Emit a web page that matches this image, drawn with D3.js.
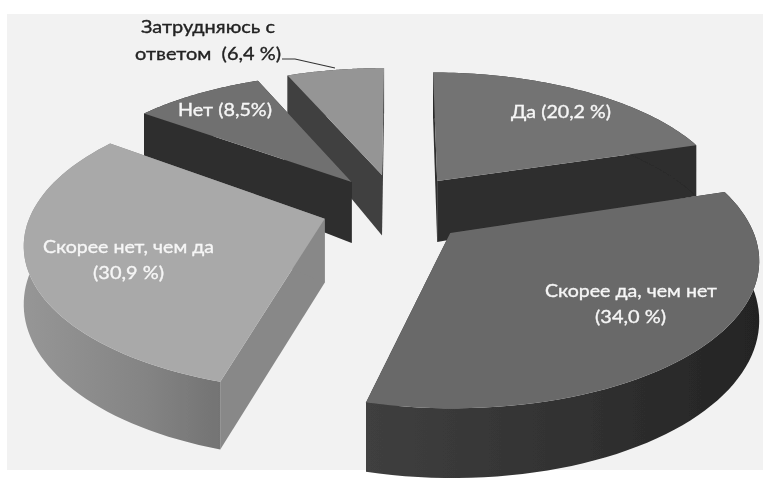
<!DOCTYPE html>
<html><head><meta charset="utf-8">
<script src="https://cdn.jsdelivr.net/npm/d3@7/dist/d3.min.js"></script>
<style>html,body{margin:0;padding:0;background:#fff}svg{display:block}text{font-family:Lato,"Open Sans",sans-serif;font-size:18px}</style>
</head><body><svg id="c" width="763" height="480"></svg>
<script>
const categories = ["Да","Скорее да, чем нет","Скорее нет, чем да","Нет","Затрудняюсь с ответом"];
const shares = [20.2,34.0,30.9,8.5,6.4];
const labelLines = [["Да (20,2 %)"],["Скорее да, чем нет","(34,0 %)"],["Скорее нет, чем да","(30,9 %)"],["Нет (8,5%)"],["Затрудняюсь с","ответом  (6,4 %)"]];

// projection + placement
const horizonY=-570, planeSpan=800, persp=.18, hRim=57, hApex=65, radiusX=305;
const place=[
 {p:409,q:30,ey:.362,flat:0,top:"#737373",wall:"#2d2d2d",cut:"#2d2d2d"},
 {p:391,q:59,ey:-.02,flat:.02,top:"#696969",wall:"url(#g2)",cut:"#2d2d2d"},
 {p:372,q:-48,ey:.08,flat:.02,top:"#a9a9a9",wall:"url(#g3)",cut:"#888888"},
 {p:377,q:-27,ey:.355,flat:0,top:"#707070",wall:"#2e2e2e",cut:"#2e2e2e"},
 {p:396,q:-15,ey:.41,flat:0,top:"#959595",wall:"#404040",cut:"#404040"}
];
const labelPos=[
 [{x:561,y:118,w:100}],
 [{x:631,y:297,w:172},{x:630.5,y:323,w:71}],
 [{x:128.5,y:253,w:171},{x:128.5,y:279,w:71}],
 [{x:225,y:116,w:94}],
 [{x:208,y:33,w:134,c:"#222"},{x:208,y:60,w:146,c:"#222"}]
];
const drawOrder=[4,3,0,2,1];

const svg=d3.select("#c");
const defs=svg.append("defs");
defs.append("filter").attr("id","soft").attr("x","-5%").attr("y","-5%").attr("width","110%").attr("height","110%")
 .append("feGaussianBlur").attr("stdDeviation",.5);
function grad(id,x1,x2,stops){const g=defs.append("linearGradient").attr("id",id).attr("gradientUnits","userSpaceOnUse")
 .attr("x1",x1).attr("x2",x2).attr("y1",0).attr("y2",0);
 stops.forEach(([o,c])=>g.append("stop").attr("offset",o).attr("stop-color",c));}
grad("g2",368,757,[[0,"#3f3f3f"],[.5,"#323232"],[1,"#242424"]]);
grad("g3",25,226,[[0,"#969696"],[.6,"#848484"],[1,"#727272"]]);

svg.append("rect").attr("x",7).attr("y",14).attr("width",756).attr("height",456).attr("fill","#f2f2f2");

const arcs=d3.pie().sort(null).value(d=>d)(shares);
const line=d3.line();
const g=svg.append("g").attr("filter","url(#soft)");

function proj(s,theta,r,drop,bulge){
 const rr=r*(1-(bulge||0));
 const X=Math.sin(theta)*rr, Y=Math.cos(theta)*rr+s.ey;
 const k=1/(1+persp*Y);
 const h=drop?(hRim+(hApex-hRim)*(1-r))*k:0;
 return [s.p+(s.q+radiusX*X)*k, horizonY+planeSpan*k+h];
}
drawOrder.forEach(i=>{
 const a=arcs[i], s=place[i];
 const ts=d3.range(0,61).map(t=>t/60);
 const at=t=>a.startAngle+(a.endAngle-a.startAngle)*t;
 const fl=t=>s.flat*Math.sin(Math.PI*t);
 const rimT=ts.map(t=>proj(s,at(t),1,false,fl(t))), rimB=ts.map(t=>proj(s,at(t),1,true,fl(t)));
 const apT=proj(s,0,0,false), apB=proj(s,0,0,true);
 [0,60].forEach(j=>g.append("path").attr("d",line([apT,rimT[j],rimB[j],apB])+"Z").attr("fill",s.cut));
 g.append("path").attr("d",line([...rimT,...rimB.slice().reverse()])+"Z").attr("fill",s.wall);
 g.append("path").attr("d",line([apT,...rimT])+"Z").attr("fill",s.top);
});
g.append("path").attr("d",line([[282,59],[295,59],[335,68]])).attr("fill","none").attr("stroke","#333").attr("stroke-width",1.2);

labelLines.forEach((ls,i)=>ls.forEach((t,j)=>{
 const p=labelPos[i][j];
 const c=p.c||"#f6f6f6";
 g.append("text").attr("x",p.x).attr("y",p.y).attr("text-anchor","middle").attr("textLength",p.w).attr("lengthAdjust","spacingAndGlyphs")
  .attr("fill",c).attr("stroke",c).attr("stroke-width",.35).style("white-space","pre").text(t);
}));
</script></body></html>
